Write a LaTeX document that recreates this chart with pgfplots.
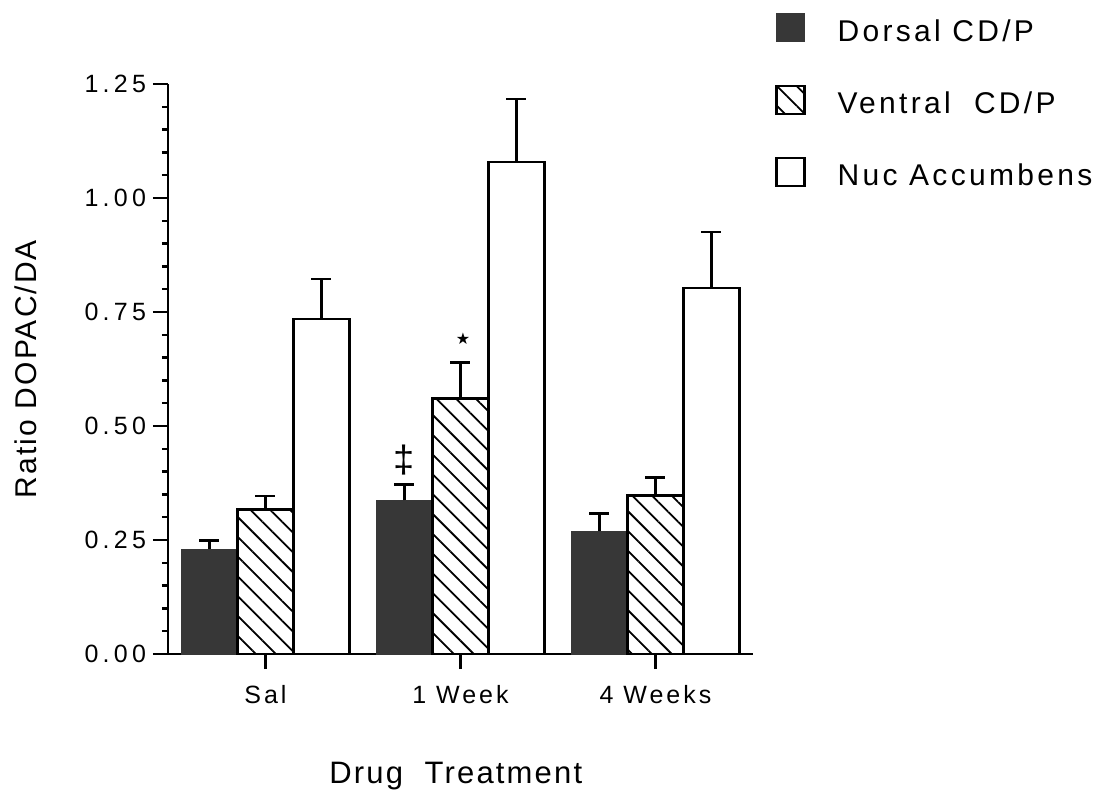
\documentclass[border=0pt]{standalone}
\usepackage{fontspec}
\setmainfont{Liberation Sans}[LetterSpace=7]
\newfontfamily\tickfont{Liberation Sans}[LetterSpace=17]
\newfontfamily\xtickfont{Liberation Sans}[LetterSpace=12]
\newfontfamily\legfont{Liberation Sans}[LetterSpace=11]
\newfontfamily\symfont{DejaVu Sans}
\usepackage{pgfplots}
\usepackage{pgfplotstable}
\pgfplotsset{compat=1.18}
\usetikzlibrary{patterns.meta}

\pgfplotstableread{
x y e
0 0.230 0.019
1 0.337 0.035
2 0.269 0.039
}\dorsal
\pgfplotstableread{
x y e
0 0.317 0.029
1 0.560 0.079
2 0.348 0.039
}\ventral
\pgfplotstableread{
x y e
0 0.735 0.088
1 1.079 0.138
2 0.803 0.123
}\nuc

\definecolor{darkbar}{RGB}{55,55,55}

\begin{document}
\begin{tikzpicture}
\path[use as bounding box] (-84pt,-70pt) rectangle (465.5pt,327pt);
\begin{axis}[
  at={(0,0)}, anchor=south west,
  width=292.5pt, height=285pt, scale only axis,
  xmin=-0.5, xmax=2.5, ymin=0, ymax=1.25,
  axis lines=left, axis line style={-, line width=1.4pt},
  xtick={0,1,2}, xticklabels={Sal,1 Week,4 Weeks},
  ytick={0,0.25,0.5,0.75,1,1.25}, minor y tick num=4,
  tick align=outside, major tick length=7.5pt, minor tick length=3pt,
  every tick/.style={line width=1.2pt, black},
  /pgf/number format/fixed, /pgf/number format/fixed zerofill, /pgf/number format/precision=2,
  /pgf/number format/assume math mode=true,
  yticklabel style={font=\tickfont\fontsize{12.5}{15}\selectfont},
  xticklabel style={font=\xtickfont\fontsize{12.5}{15}\selectfont, yshift=-4.5pt},
  xlabel={Drug\ \ Treatment},
  ylabel={Ratio DOPAC/DA},
  every axis x label/.style={at={(axis description cs:0.492,0)}, yshift=-64.5pt, anchor=base, font=\fontsize{15.5}{18}\selectfont},
  every axis y label/.style={at={(axis description cs:-0.2427,0.5)}, rotate=90, anchor=center, font=\fontsize{15}{18}\selectfont},
  legend style={at={(axis description cs:1.0376,1.1246)}, anchor=north west, draw=none, fill=none, inner sep=0pt, row sep=18.5pt,
    font=\legfont\fontsize{15}{18}\selectfont, nodes={inner sep=0pt, text height=11pt, text depth=3pt},
    /tikz/every odd column/.append style={column sep=16pt}},
  legend cell align=left,
  clip=false,
]
\addplot[ybar, bar width=28pt, bar shift=0pt, fill=darkbar, draw=darkbar,
  legend image code/.code={\fill[darkbar] (0pt,-4pt) rectangle (14pt,10pt);},
  error bars/.cd, y dir=plus, y explicit,
  error bar style={line width=1.2pt, black},
  error mark options={rotate=90, line width=1.2pt, mark size=5pt, black}]
  table[x expr=\thisrow{x}-0.28718, y=y, y error=e]{\dorsal};
\addlegendentry{Dorsal CD/P}
\addplot[ybar, bar width=28pt, bar shift=0pt, draw=black, line width=1.2pt,
  pattern={Lines[angle=-45, distance=7pt, line width=0.9pt]},
  legend image code/.code={\draw[line width=1.1pt, pattern={Lines[angle=-45, distance=7pt, line width=0.9pt]}] (0pt,-4pt) rectangle (14pt,10pt);},
  error bars/.cd, y dir=plus, y explicit,
  error bar style={line width=1.2pt, black},
  error mark options={rotate=90, line width=1.2pt, mark size=5pt, black}]
  table[x=x, y=y, y error=e]{\ventral};
\addlegendentry{Ventral\ \ CD/P}
\addplot[ybar, bar width=28pt, bar shift=0pt, draw=black, fill=white, line width=1.2pt,
  legend image code/.code={\draw[line width=1.1pt, fill=white] (0pt,-4pt) rectangle (14pt,10pt);},
  error bars/.cd, y dir=plus, y explicit,
  error bar style={line width=1.2pt, black},
  error mark options={rotate=90, line width=1.2pt, mark size=5pt, black}]
  table[x expr=\thisrow{x}+0.28718, y=y, y error=e]{\nuc};
\addlegendentry{Nuc Accumbens}
\node[font=\fontsize{19}{19}\selectfont, inner sep=0pt] at (axis cs:0.713,0.4245) {‡};
\node[font=\symfont\fontsize{8}{8}\selectfont, inner sep=0pt] at (axis cs:1.013,0.691) {★};
\end{axis}
\end{tikzpicture}
\end{document}
